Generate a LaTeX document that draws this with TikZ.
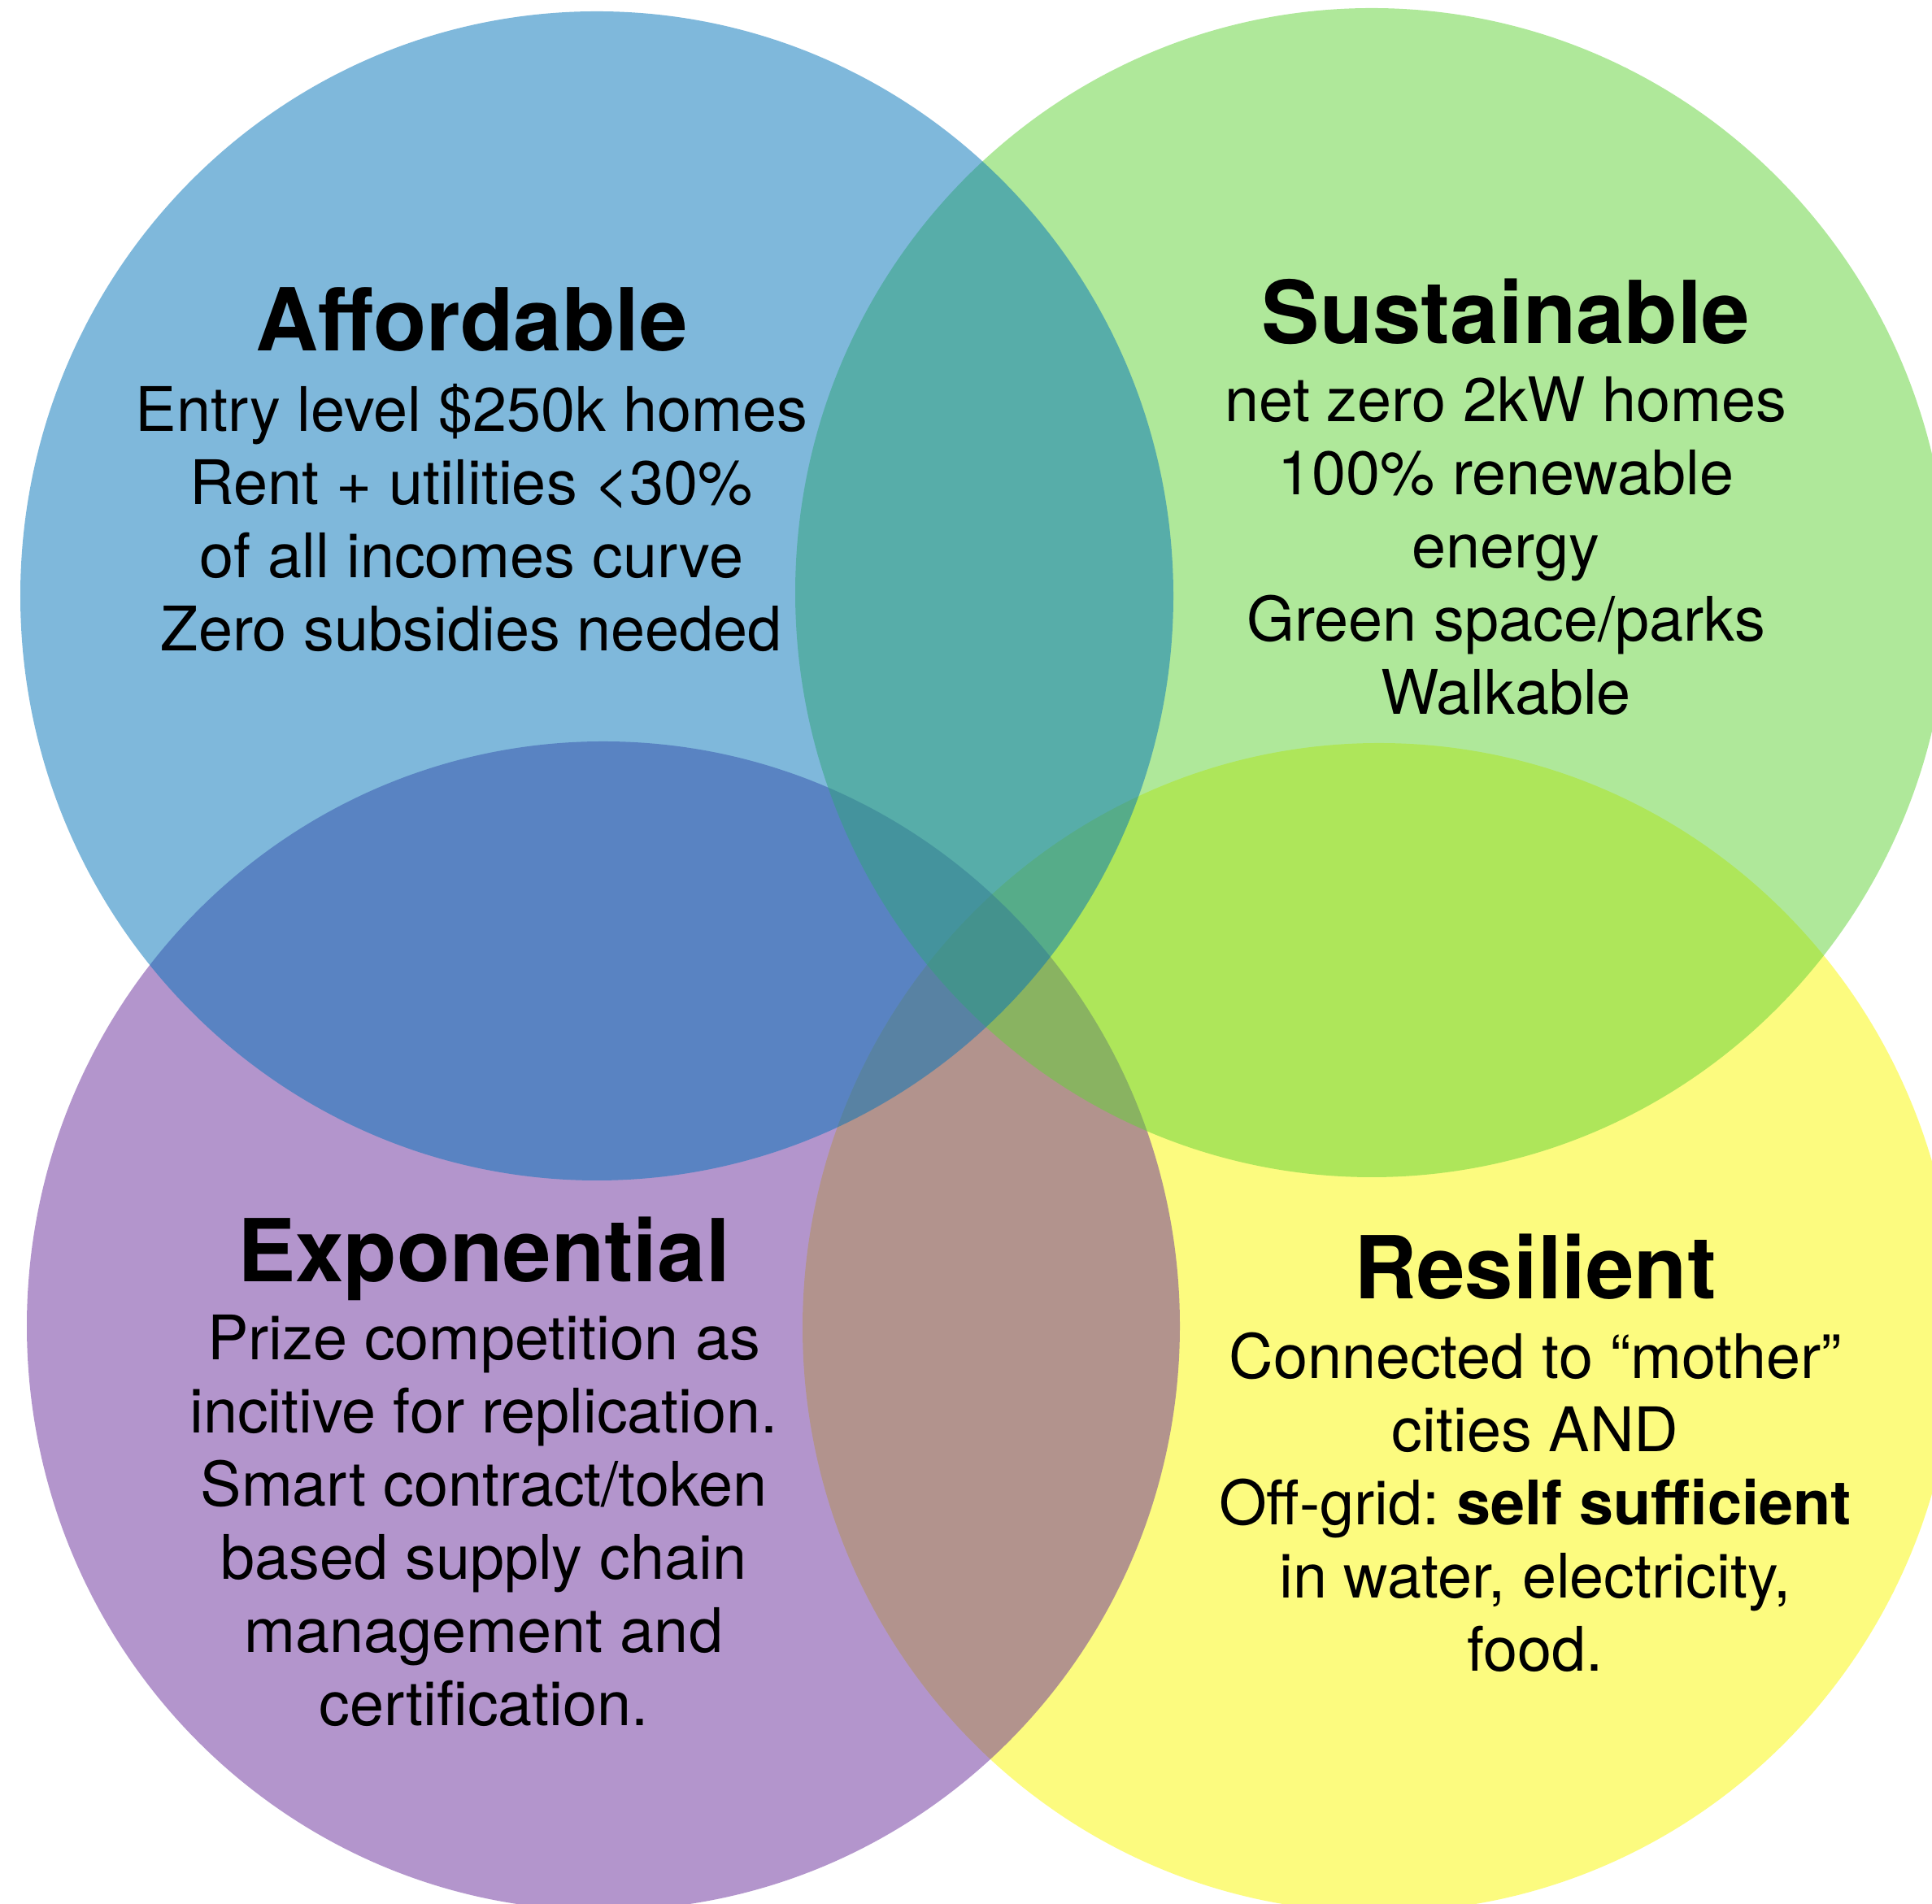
\documentclass[tikz,border=0pt]{standalone}
\usepackage{fontspec}
\setmainfont{TeX Gyre Heros}
\frenchspacing
\usetikzlibrary{positioning, shapes.geometric}
\definecolor{affblue}{RGB}{0,115,185}
\definecolor{susgreen}{RGB}{97,211,55}
\definecolor{expurple}{RGB}{105,45,155}
\definecolor{resyellow}{RGB}{251,249,0}
\begin{document}
\begin{tikzpicture}[align = center, node distance=4mm,
        set/.style = {ellipse, minimum width=141.8mm, minimum height=143.8mm, inner sep=0pt, fill opacity=0.5},
        head/.style = {font=\fontsize{30.4}{36}\selectfont\bfseries, anchor=base, inner sep=0pt},
        txt/.style = {font=\fontsize{21.5}{25.6}\selectfont, anchor=north, inner sep=0pt}]
            \useasboundingbox (0,0) rectangle (23.76,23.42);
            \fill[white] (0,0) rectangle (23.76,23.42);
            \node[set, fill=resyellow] (res) at (16.96,7.09) {};
            \node[set, fill=expurple] (exp) at (7.42,7.11) {};
            \node[set, fill=susgreen] (sus) at (16.87,16.13) {};
            \node[set, fill=affblue] (aff) at (7.34,16.09) {};
            \node[head] (afft) at (5.80,19.10) {Affordable};
            \node[txt] (affb) [below=of afft.base] {Entry level \$250k homes\\ Rent + utilities <30\%\\ of all incomes curve\\ Zero subsidies needed};
            \node[head] (sust) at (18.52,19.19) {Sustainable};
            \node[txt] (susb) [below=of sust.base] {net zero 2kW homes\\ 100\% renewable\\ energy\\ Green space/parks\\ Walkable};
            \node[head] (expt) at (5.95,7.65) {Exponential};
            \node[txt] (expb) [below=of expt.base] {Prize competition as\\ incitive for replication.\\ Smart contract/token\\ based supply chain\\ management and\\ certification.};
            \node[head] (rest) at (18.88,7.44) {Resilient};
            \node[txt] (resb) [below=of rest.base] {Connected to “mother”\\ cities AND\\ Off-grid: {\bfseries self sufficient}\\ in water, electricity,\\ food.};
        \end{tikzpicture}
\end{document}
